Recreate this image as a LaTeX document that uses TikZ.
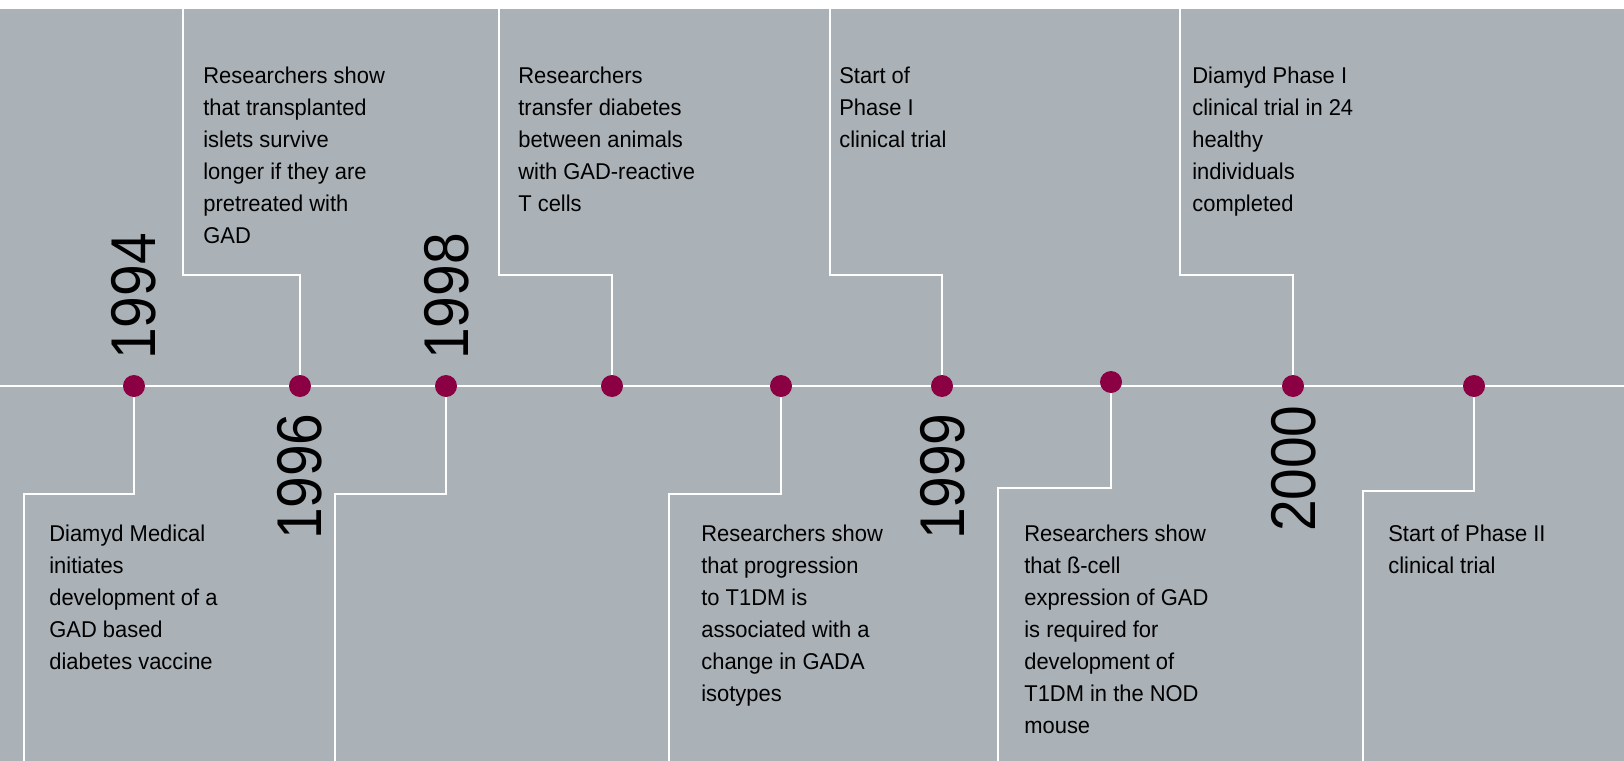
\documentclass[tikz,border=0pt]{standalone}
\usepackage{fontspec}
\setmainfont[FakeStretch=0.96]{Liberation Sans}
\newfontfamily\yearfont[FakeStretch=0.9]{Liberation Sans}
\usepackage{tikz}
\usetikzlibrary{positioning,backgrounds}
\definecolor{panelgray}{RGB}{170,177,183}
\definecolor{dotred}{RGB}{139,0,66}

\begin{document}
\begin{tikzpicture}[x=0.02cm, y=-0.02cm,
        dot/.style={circle, fill=dotred, minimum size=0.44cm, inner sep=0pt},
        stem/.style={white, line width=1.5pt},
        event/.style={anchor=north west, inner sep=0pt, align=left,
            font=\fontsize{13pt}{18.2pt}\selectfont},
        year/.style={inner sep=0pt, rotate=90, font=\yearfont\fontsize{36pt}{36pt}\selectfont}]
    \useasboundingbox (0,0) rectangle (1624,761);
    % dots on the time line
    \node[dot] (d1) at (134,386) {};
    \node[dot] (d2) at (300,386) {};
    \node[dot] (d3) at (446,386) {};
    \node[dot] (d4) at (612,386) {};
    \node[dot] (d5) at (781,386) {};
    \node[dot] (d6) at (942,386) {};
    \node[dot] (d7) at (1111,382) {};
    \node[dot] (d8) at (1293,386) {};
    \node[dot] (d9) at (1474,386) {};
    % years
    \node[year, anchor=west] (y1994) at (134,360) {1994};
    \node[year, anchor=east] (y1996) at (300,413) {1996};
    \node[year, anchor=west] (y1998) at (447,360) {1998};
    \node[year, anchor=east] (y1999) at (943,413) {1999};
    \node[year, anchor=east] (y2000) at (1294,405) {2000};
    % events above
    \node[event] (t2) at (203,67) {Researchers show\\that transplanted\\islets survive\\longer if they are\\pretreated with\\GAD};
    \node[event] (t4) at (518,67) {Researchers\\transfer diabetes\\between animals\\with GAD-reactive\\T cells};
    \node[event] (t6) at (839,67) {Start of\\Phase I\\clinical trial};
    \node[event] (t8) at (1192,67) {Diamyd Phase I\\clinical trial in 24\\healthy\\individuals\\completed};
    % events below
    \node[event] (t1) at (49,525) {Diamyd Medical\\initiates\\development of a\\GAD based\\diabetes vaccine};
    \node[event] (t5) at (701,525) {Researchers show\\that progression\\to T1DM is\\associated with a\\change in GADA\\isotypes};
    \node[event] (t7) at (1024,525) {Researchers show\\that ß-cell\\expression of GAD\\is required for\\development of\\T1DM in the NOD\\mouse};
    \node[event] (t9) at (1388,525) {Start of Phase II\\clinical trial};
    % knees and open ends of the stems
    \coordinate (k1) at (24,494);   \coordinate (e1) at (24,761);
    \coordinate (k2) at (183,275);  \coordinate (e2) at (183,9);
    \coordinate (k3) at (335,494);  \coordinate (e3) at (335,761);
    \coordinate (k4) at (499,275);  \coordinate (e4) at (499,9);
    \coordinate (k5) at (669,494);  \coordinate (e5) at (669,761);
    \coordinate (k6) at (830,275);  \coordinate (e6) at (830,9);
    \coordinate (k7) at (998,488);  \coordinate (e7) at (998,761);
    \coordinate (k8) at (1180,275); \coordinate (e8) at (1180,9);
    \coordinate (k9) at (1363,491); \coordinate (e9) at (1363,761);
    \coordinate (tl) at (0,386);
    \coordinate (tr) at (1624,386);
    \begin{scope}[on background layer]
        \fill[panelgray] (0,9) rectangle (1624,761);
        \draw[stem] (tl) -- (tr);
        \foreach \i in {1,...,9}
            \draw[stem] (d\i) |- (k\i) -- (e\i);
    \end{scope}
\end{tikzpicture}
\end{document}
